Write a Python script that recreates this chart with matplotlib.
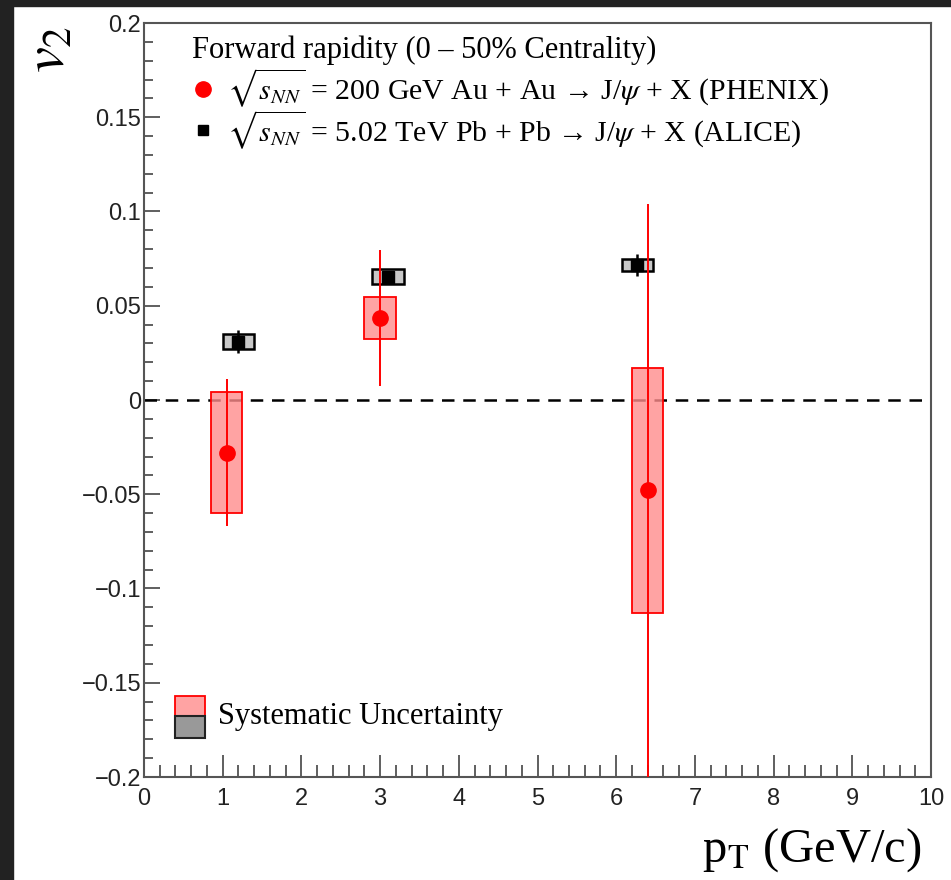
import matplotlib
matplotlib.use("Agg")
import matplotlib.pyplot as plt
from matplotlib.patches import Rectangle
from matplotlib.ticker import MultipleLocator, FuncFormatter

# --- data ---
phenix_pt = [1.05, 3.0, 6.4]
phenix_v2 = [-0.028, 0.0435, -0.048]
phenix_stat = [0.039, 0.036, 0.152]
phenix_sys = [0.032, 0.011, 0.065]

alice_pt = [1.2, 3.1, 6.27]
alice_v2 = [0.031, 0.0653, 0.0716]
alice_stat = [0.006, 0.003, 0.006]
alice_sys = [0.004, 0.004, 0.003]

box_width = 0.4

header = "Forward rapidity (0 – 50% Centrality)"
phenix_label = r"$\sqrt{s_{NN}}$ = 200 GeV Au + Au → J/$\psi$ + X (PHENIX)"
alice_label = r"$\sqrt{s_{NN}}$ = 5.02 TeV Pb + Pb → J/$\psi$ + X (ALICE)"
sys_label = "Systematic Uncertainty"

plt.rcParams['mathtext.fontset'] = 'stix'
serif = ['Liberation Serif', 'DejaVu Serif']
sans = ['Liberation Sans', 'DejaVu Sans']

fig = plt.figure(figsize=(9.51, 8.8), dpi=100)
ax = fig.add_axes([144 / 951, 103 / 880, 787 / 951, 754 / 880])

# dark screenshot border
fig.patches.append(Rectangle((0, 0), 13 / 951, 1, transform=fig.transFigure,
                             color='#222222', zorder=0))
fig.patches.append(Rectangle((0, 1 - 6 / 880), 1, 6 / 880, transform=fig.transFigure,
                             color='#222222', zorder=0))

# --- ALICE (black squares, grey sys boxes) ---
ax.bar(alice_pt, [2 * s for s in alice_sys],
       bottom=[v - s for v, s in zip(alice_v2, alice_sys)],
       width=box_width, facecolor='#c8c8c8', edgecolor='black', linewidth=1.8, zorder=3)
ax.errorbar(alice_pt, alice_v2, yerr=alice_stat, fmt='s', color='black',
            markersize=8.5, elinewidth=1.8, capsize=0, zorder=4)

# --- PHENIX (red circles, red sys boxes) ---
ax.bar(phenix_pt, [2 * s for s in phenix_sys],
       bottom=[v - s for v, s in zip(phenix_v2, phenix_sys)],
       width=box_width, facecolor=(1, 0.55, 0.55, 0.8), edgecolor='red',
       linewidth=1.3, zorder=5)
ax.errorbar(phenix_pt, phenix_v2, yerr=phenix_stat, fmt='o', color='red',
            markersize=11, elinewidth=1.4, capsize=0, zorder=6)

ax.axhline(0, color='black', linestyle=(0, (5, 3.5)), linewidth=1.8, zorder=2)

# --- axes ---
ax.set_xlim(0, 10)
ax.set_ylim(-0.2, 0.2)
ax.xaxis.set_major_locator(MultipleLocator(1))
ax.xaxis.set_minor_locator(MultipleLocator(0.2))
ax.yaxis.set_major_locator(MultipleLocator(0.05))
ax.yaxis.set_minor_locator(MultipleLocator(0.01))


def yfmt(v, pos):
    if abs(v) < 1e-9:
        return "0"
    s = ("%.2f" % v).rstrip('0').rstrip('.')
    return s.replace('-', '\u2212')


ax.yaxis.set_major_formatter(FuncFormatter(yfmt))
ax.xaxis.set_major_formatter(FuncFormatter(lambda v, p: "%d" % round(v)))

ax.tick_params(axis='x', which='major', direction='in', length=16, width=1.2,
               color='#444444', pad=8)
ax.tick_params(axis='x', which='minor', direction='in', length=8.5, width=1.2,
               color='#444444')
ax.tick_params(axis='y', which='major', direction='in', length=11.5, width=1.2,
               color='#444444', pad=2)
ax.tick_params(axis='y', which='minor', direction='in', length=6.5, width=1.2,
               color='#444444')
for lab in ax.get_xticklabels() + ax.get_yticklabels():
    lab.set_family(sans)
    lab.set_fontsize(17)
    lab.set_color('#222222')
for sp in ax.spines.values():
    sp.set_color('#555555')
    sp.set_linewidth(1.5)

# --- top legend ---
ax.text(0.061, 0.964, header, transform=ax.transAxes, family=serif,
        fontsize=22, va='center', ha='left')
ax.plot([0.075], [0.913], 'o', color='red', markersize=11, transform=ax.transAxes,
        clip_on=False)
ax.text(0.105, 0.913, phenix_label, transform=ax.transAxes, family=serif,
        fontsize=21.5, va='center', ha='left')
ax.plot([0.075], [0.858], 's', color='black', markersize=7, transform=ax.transAxes,
        clip_on=False)
ax.text(0.105, 0.857, alice_label, transform=ax.transAxes, family=serif,
        fontsize=21.5, va='center', ha='left')

# --- systematic legend ---
ax.add_patch(Rectangle((0.039, 0.081), 0.039, 0.027, transform=ax.transAxes,
                       facecolor=(1, 0.55, 0.55, 0.8), edgecolor='red', linewidth=1.3))
ax.add_patch(Rectangle((0.039, 0.052), 0.039, 0.029, transform=ax.transAxes,
                       facecolor='#999999', edgecolor='#222222', linewidth=1.5))
ax.text(0.094, 0.080, sys_label, transform=ax.transAxes, family=serif,
        fontsize=22, va='center', ha='left')

# --- axis titles ---
fig.text(921 / 951, 30 / 880, r"p$_{\mathrm{T}}$ (GeV/c)", family=serif,
         fontsize=35, ha='right', va='center')
fig.text(48 / 951, 1 - 26 / 880, r"$v_2$", rotation=90, fontsize=42,
         ha='center', va='top')

fig.savefig("out.png", dpi=100)
